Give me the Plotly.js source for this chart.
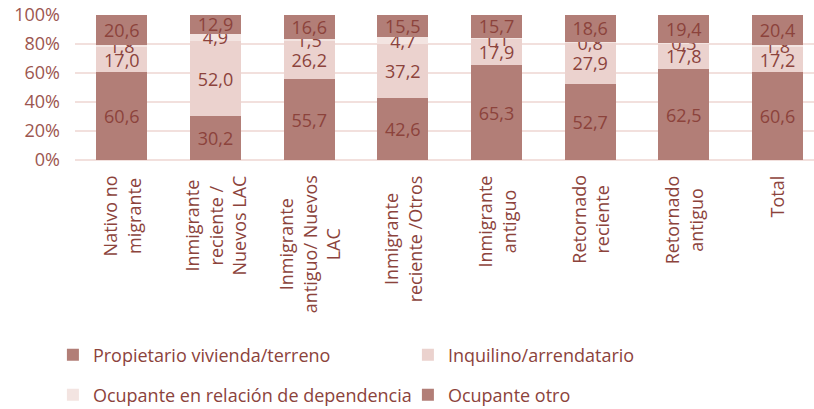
<!DOCTYPE html>
<html>
<head>
<meta charset="utf-8">
<script src="https://cdn.plot.ly/plotly-3.0.1.min.js"></script>
<style>html,body{margin:0;padding:0;background:#fff;}#chart{width:814px;height:409px;}</style>
</head>
<body>
<div id="chart"></div>
<script>
var categories = [
  "Nativo no<br>migrante",
  "Inmigrante<br>reciente /<br>Nuevos LAC",
  "Inmigrante<br>antiguo/ Nuevos<br>LAC",
  "Inmigrante<br>reciente /Otros",
  "Inmigrante<br>antiguo",
  "Retornado<br>reciente",
  "Retornado<br>antiguo",
  "Total"
];
var propietario = [60.6, 30.2, 55.7, 42.6, 65.3, 52.7, 62.5, 60.6];
var inquilino = [17.0, 52.0, 26.2, 37.2, 17.9, 27.9, 17.8, 17.2];
var dependencia = [1.8, 4.9, 1.5, 4.7, 1.1, 0.8, 0.3, 1.8];
var otro = [20.6, 12.9, 16.6, 15.5, 15.7, 18.6, 19.4, 20.4];
var seriesNames = ["Propietario vivienda/terreno", "Inquilino/arrendatario", "Ocupante en relación de dependencia", "Ocupante otro"];
var yTicks = [0, 20, 40, 60, 80, 100];

var textColor = "#8c433c";
var fontFam = "'Open Sans', sans-serif";
var colors = ["#b27e77", "#ebd2ce", "#f3e4e1", "#b27e77"];
var data = [propietario, inquilino, dependencia, otro];
var legends = ["legend", "legend", "legend2", "legend2"];

var traces = data.map(function (vals, i) {
  return {
    type: "bar",
    name: seriesNames[i],
    x: categories,
    y: vals,
    marker: {color: colors[i], line: {width: 0}},
    texttemplate: "%{y:.1f}",
    textposition: "inside",
    insidetextanchor: "middle",
    constraintext: "none",
    textangle: 0,
    textfont: {family: fontFam, size: 18, color: textColor},
    legend: legends[i],
    hoverinfo: "skip"
  };
});

var legendBase = {
  orientation: "h",
  xref: "container", yref: "container",
  x: 0.065, xanchor: "left",
  yanchor: "middle",
  entrywidth: 310, entrywidthmode: "pixels",
  font: {family: fontFam, size: 18, color: textColor},
  bgcolor: "rgba(0,0,0,0)",
  traceorder: "normal"
};

// category labels: rotated, lines centred within each label (as in the reference)
var catAnnotations = categories.map(function (c) {
  return {
    x: c, xref: "x",
    y: -0.09, yref: "paper",
    xanchor: "center", yanchor: "top",
    text: c,
    textangle: -90,
    align: "center",
    showarrow: false,
    font: {family: fontFam, size: 18, color: textColor}
  };
});

var layout = {
  width: 814,
  height: 409,
  margin: {l: 75, r: 0, t: 15, b: 249},
  barmode: "stack",
  bargap: 0.455,
  separators: ", ",
  paper_bgcolor: "#ffffff",
  plot_bgcolor: "#ffffff",
  font: {family: fontFam, size: 18, color: textColor},
  xaxis: {
    type: "category",
    range: [-0.5, 7.39],
    showticklabels: false,
    ticklen: 0,
    showgrid: false,
    showline: false,
    automargin: false
  },
  yaxis: {
    range: [0, 100],
    tickvals: yTicks,
    ticktext: yTicks.map(function (v) { return v + "%"; }),
    showgrid: true,
    gridcolor: "#f2e0dd",
    gridwidth: 2,
    zeroline: true,
    zerolinecolor: "#f2e0dd",
    zerolinewidth: 2,
    ticklen: 0,
    ticklabelstandoff: 14,
    automargin: false,
    tickfont: {family: fontFam, size: 18, color: "#9c564f"}
  },
  annotations: catAnnotations,
  legend: Object.assign({}, legendBase, {y: 0.132}),
  legend2: Object.assign({}, legendBase, {y: 0.034}),
  showlegend: true
};

Plotly.newPlot("chart", traces, layout, {displayModeBar: false, staticPlot: true});
</script>
</body>
</html>
